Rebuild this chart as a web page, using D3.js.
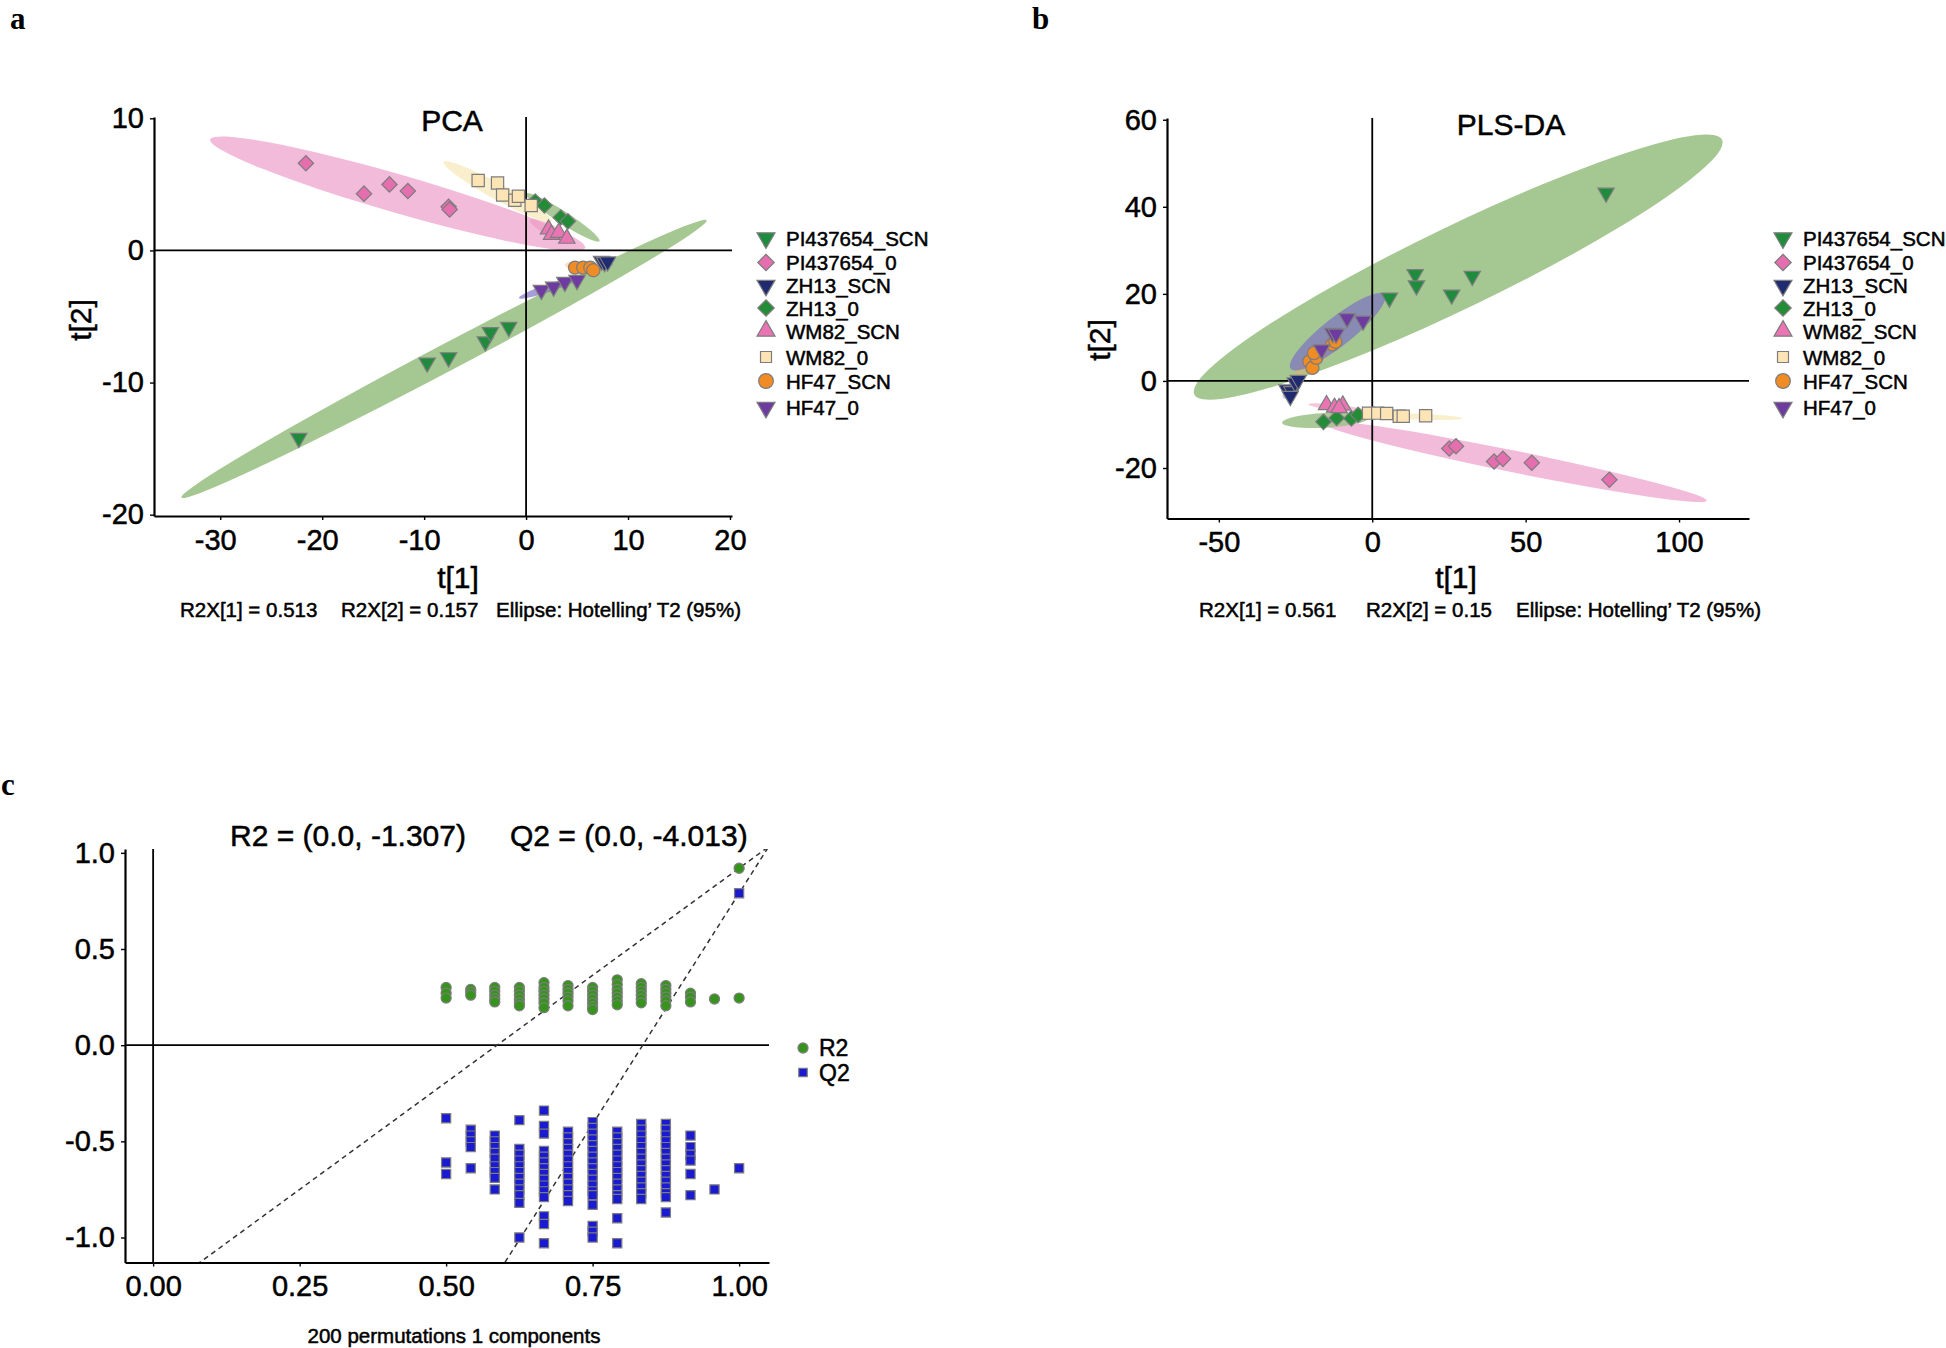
<!DOCTYPE html>
<html>
<head>
<meta charset="utf-8">
<script src="https://cdn.jsdelivr.net/npm/d3@7"></script>
<style>
  body { margin: 0; background: #fff; }
  svg { display: block; }
  text { font-family: "Liberation Sans", Arial, Helvetica, sans-serif; fill: #000; stroke: #000; stroke-width: 0.5px; }
  text.tag { stroke: none; }
</style>
</head>
<body>
<svg id="fig" width="1946" height="1348"></svg>
<script>
// ---- data ----
const groups = ["PI437654_SCN", "PI437654_0", "ZH13_SCN", "ZH13_0", "WM82_SCN", "WM82_0", "HF47_SCN", "HF47_0"];
const groupShapes = ["triDown", "diamond", "triDown", "diamond", "triUp", "square", "circle", "triDown"];

// PCA scores t[1], t[2] per group
const pcaScores = [
  [[-22.3, -14.2], [-9.7, -8.5], [-7.6, -8.1], [-4.0, -6.9], [-3.5, -6.2], [-1.7, -5.8]],
  [[-21.6, 6.6], [-15.9, 4.3], [-13.4, 5.0], [-11.6, 4.5], [-7.6, 3.3], [-7.5, 3.1]],
  [[7.4, -0.8], [7.7, -0.9], [8.0, -0.85]],
  [[0.9, 3.7], [1.8, 3.4], [3.4, 2.5], [4.1, 2.2]],
  [[2.2, 1.6], [2.5, 1.2], [3.2, 1.35], [4.0, 0.9]],
  [[-4.7, 5.3], [-2.8, 5.1], [-2.3, 4.2], [-1.1, 3.8], [-0.75, 4.1], [0.5, 3.4]],
  [[4.8, -1.3], [5.6, -1.3], [6.3, -1.3], [6.6, -1.5]],
  [[1.5, -3.0], [2.7, -2.75], [3.8, -2.4], [5.0, -2.25]]
];
// Hotelling T2 ellipses: tip1 x, tip1 y, tip2 x, tip2 y, minor/major ratio
const pcaEllipses = [
  [-33.8, -18.7, 17.7, 2.28, 0.045],
  [-31.0, 8.4, 5.8, 0.2, 0.098],
  [7.0, -0.6, 8.5, -1.1, 0.4],
  [0.0, 4.3, 7.2, 0.7, 0.14],
  [0.4, 2.3, 4.3, 0.8, 0.25],
  [-8.1, 6.7, 2.5, 2.2, 0.13],
  [3.8, -1.1, 7.0, -1.3, 0.3],
  [-0.7, -3.6, 5.4, -2.0, 0.12]
];

const plsScores = [
  [[76.2, 43.2], [14.0, 24.5], [14.4, 21.9], [5.6, 19.1], [25.9, 19.8], [32.6, 24.1]],
  [[25.1, -15.5], [27.3, -15.0], [39.7, -18.5], [42.6, -17.9], [52.0, -18.8], [77.3, -22.7]],
  [[-27.8, -2.0], [-26.2, -2.4], [-25.1, -0.4], [-26.7, -3.5], [-24.1, 0.2]],
  [[-15.9, -9.4], [-11.6, -8.5], [-6.8, -8.6], [-4.6, -7.8]],
  [[-14.9, -5.5], [-12.3, -6.1], [-9.6, -5.6], [-10.8, -6.2]],
  [[-1.2, -7.4], [1.8, -7.4], [4.7, -7.5], [8.8, -8.1], [10.1, -8.1], [17.4, -8.0]],
  [[-20.5, 4.5], [-19.5, 3.0], [-18.2, 5.3], [-19.0, 6.4], [-13.0, 8.4], [-12.0, 9.0]],
  [[-16.5, 7.2], [-12.9, 11.0], [-11.8, 10.8], [-8.2, 14.4], [-3.0, 13.8]]
];
const plsEllipses = [
  [-58.0, -3.1, 114.0, 55.4, 0.14],
  [-17.0, -9.5, 109.0, -27.5, 0.055],
  [-29.0, -4.0, -23.0, 1.0, 0.35],
  [-29.4, -9.6, -1.3, -8.5, 0.17],
  [-20.7, -5.4, -1.9, -6.9, 0.1],
  [-4.4, -7.7, 29.4, -8.6, 0.06],
  [-25.0, 1.0, -12.0, 10.0, 0.3],
  [-26.6, 2.8, 4.0, 19.8, 0.24]
];

const pcaXTicks = [-30, -20, -10, 0, 10, 20];
const pcaYTicks = [-20, -10, 0, 10];
const plsXTicks = [-50, 0, 50, 100];
const plsYTicks = [-20, 0, 20, 40, 60];
const pcaR2X = ["R2X[1] = 0.513", "R2X[2] = 0.157", "Ellipse: Hotelling\u2019 T2 (95%)"];
const plsR2X = ["R2X[1] = 0.561", "R2X[2] = 0.15", "Ellipse: Hotelling\u2019 T2 (95%)"];

// permutation test (200 permutations)
const permSteps = [0.5, 0.542, 0.583, 0.625, 0.667, 0.708, 0.75, 0.792, 0.833, 0.875, 0.917, 0.958, 1.0];
const permR2 = [
  [0.30, 0.27, 0.245],
  [0.29, 0.275, 0.26],
  [0.30, 0.28, 0.26, 0.24, 0.225],
  [0.30, 0.28, 0.26, 0.24, 0.22, 0.205],
  [0.325, 0.30, 0.28, 0.26, 0.24, 0.22, 0.195],
  [0.31, 0.29, 0.27, 0.25, 0.23, 0.205],
  [0.30, 0.28, 0.26, 0.24, 0.22, 0.20, 0.185],
  [0.34, 0.315, 0.29, 0.27, 0.25, 0.23, 0.21],
  [0.32, 0.30, 0.28, 0.26, 0.24, 0.22],
  [0.31, 0.29, 0.27, 0.25, 0.23, 0.205],
  [0.27, 0.25, 0.225],
  [0.24],
  [0.245]
];
const permQ2 = [
  [-0.38, -0.61, -0.67],
  [-0.44, -0.47, -0.50, -0.53, -0.64],
  [-0.47, -0.50, -0.53, -0.56, -0.59, -0.63, -0.66, -0.69, -0.75],
  [-0.39, -0.54, -0.57, -0.60, -0.63, -0.66, -0.69, -0.72, -0.75, -0.78, -0.82, -1.00],
  [-0.34, -0.42, -0.46, -0.55, -0.58, -0.61, -0.64, -0.67, -0.70, -0.73, -0.76, -0.79, -0.89, -0.93, -1.03],
  [-0.45, -0.48, -0.51, -0.54, -0.57, -0.60, -0.63, -0.66, -0.69, -0.72, -0.75, -0.78, -0.81],
  [-0.40, -0.43, -0.46, -0.49, -0.52, -0.55, -0.58, -0.61, -0.64, -0.67, -0.70, -0.73, -0.76, -0.78, -0.83, -0.94, -0.97, -1.00],
  [-0.45, -0.48, -0.51, -0.54, -0.57, -0.60, -0.63, -0.66, -0.69, -0.72, -0.75, -0.78, -0.80, -0.90, -1.03],
  [-0.41, -0.44, -0.47, -0.50, -0.53, -0.56, -0.59, -0.62, -0.65, -0.68, -0.71, -0.74, -0.77, -0.80],
  [-0.41, -0.44, -0.47, -0.50, -0.53, -0.56, -0.59, -0.62, -0.65, -0.68, -0.71, -0.74, -0.77, -0.79, -0.87],
  [-0.47, -0.53, -0.57, -0.60, -0.67, -0.78],
  [-0.75],
  [-0.64]
];
const r2Original = 0.92;
const q2Original = 0.79;
const r2Intercept = -1.307;
const q2Intercept = -4.013;
const permXTicks = [0, 0.25, 0.5, 0.75, 1.0];
const permYTicks = [-1.0, -0.5, 0, 0.5, 1.0];

// ---- styles ----
const markerFill = ["#1e8c3c", "#e56eae", "#1f2a70", "#238c37", "#ea74b4", "#fde4b4", "#f08c23", "#6e3ca0"];
const ellipseFill = ["#a0c48c", "#f2b4d6", "#5a64a8", "#a0c48c", "#ec8fb8", "#f8ecc4", "#f5a860", "#7a6cc4"];
const ellipseOpacity = [0.95, 0.9, 0.3, 0.9, 0.5, 0.85, 0.35, 0.66];
const symbolType = { triDown: d3.symbolTriangle, triUp: d3.symbolTriangle, diamond: d3.symbolSquare, square: d3.symbolSquare, circle: d3.symbolCircle };
const symbolRot = { triDown: 180, triUp: 0, diamond: 45, square: 0, circle: 0 };
const plotSize = { triDown: 115, triUp: 115, diamond: 118, square: 150, circle: 135 };
const legendSize = { triDown: 140, triUp: 140, diamond: 135, square: 121, circle: 170 };
const legendRowY = [238, 262.5, 285.5, 308, 331, 357, 381, 407.5];
const FONT = '"Liberation Sans", Arial, Helvetica, sans-serif';

const svg = d3.select("#fig");

// plain hyphen for negative numbers, as in the source figure
const fmt = spec => d => d3.format(spec)(d).replace("\u2212", "-");

function styleAxis(a) {
  a.attr("font-family", null).attr("font-size", null);
  a.select(".domain").attr("stroke", "#000").attr("stroke-width", 2.2);
  a.selectAll(".tick line").attr("stroke", "#000").attr("stroke-width", 1.4);
  a.selectAll(".tick text").attr("fill", "#000").style("font-size", "29px").style("font-family", FONT);
}

function drawAxes(g, x, y, xTicks, yTicks, xFmt, yFmt, negShift) {
  const ax = g.append("g").attr("transform", `translate(0,${y.range()[0]})`)
    .call(d3.axisBottom(x).tickValues(xTicks).tickFormat(xFmt).tickSize(4).tickPadding(9).tickSizeOuter(0));
  const ay = g.append("g").attr("transform", `translate(${x.range()[0]},0)`)
    .call(d3.axisLeft(y).tickValues(yTicks).tickFormat(yFmt).tickSize(4).tickPadding(6).tickSizeOuter(0));
  styleAxis(ax);
  styleAxis(ay);
  if (negShift) ax.selectAll(".tick text").attr("dx", d => d < 0 ? -5 : 0);
}

function zeroLines(g, x, y) {
  g.append("line").attr("x1", x(0)).attr("x2", x(0)).attr("y1", y.range()[1]).attr("y2", y.range()[0])
    .attr("stroke", "#000").attr("stroke-width", 1.8);
  g.append("line").attr("x1", x.range()[0]).attr("x2", x.range()[1]).attr("y1", y(0)).attr("y2", y(0))
    .attr("stroke", "#000").attr("stroke-width", 1.8);
}

function drawEllipse(g, x, y, e, i) {
  const [x1, y1, x2, y2, ratio] = e;
  const p1 = [x(x1), y(y1)], p2 = [x(x2), y(y2)];
  const cx = (p1[0] + p2[0]) / 2, cy = (p1[1] + p2[1]) / 2;
  const a = Math.hypot(p2[0] - p1[0], p2[1] - p1[1]) / 2;
  const ang = Math.atan2(p2[1] - p1[1], p2[0] - p1[0]) * 180 / Math.PI;
  g.append("ellipse")
    .attr("transform", `translate(${cx},${cy}) rotate(${ang})`)
    .attr("rx", a).attr("ry", a * ratio)
    .attr("fill", ellipseFill[i]).attr("fill-opacity", ellipseOpacity[i]);
}

function marker(g, shape, size, cx, cy, fill) {
  g.append("path")
    .attr("d", d3.symbol().type(symbolType[shape]).size(size)())
    .attr("transform", `translate(${cx},${cy}) rotate(${symbolRot[shape]})`)
    .attr("fill", fill).attr("stroke", "#7d7d7d").attr("stroke-width", 1.2);
}

function tagLabel(g, letter, x, y) {
  g.append("text").attr("class", "tag").attr("x", x).attr("y", y)
    .style("font-family", '"Liberation Serif", "Times New Roman", serif')
    .style("font-weight", "bold").style("font-size", "31px").text(letter);
}

function scorePanel(o) {
  const g = svg.append("g");
  const x = d3.scaleLinear().domain(o.xDomain).range(o.xRange);
  const y = d3.scaleLinear().domain(o.yDomain).range(o.yRange);

  o.ellipses.forEach((e, i) => drawEllipse(g, x, y, e, i));
  zeroLines(g, x, y);
  o.scores.forEach((pts, i) => {
    pts.forEach(p => marker(g, groupShapes[i], plotSize[groupShapes[i]], x(p[0]), y(p[1]), markerFill[i]));
  });
  drawAxes(g, x, y, o.xTicks, o.yTicks, fmt("d"), fmt("d"), o.negShift);

  g.append("text").attr("x", o.titleX).attr("y", o.titleY).attr("text-anchor", "middle")
    .style("font-size", "30px").text(o.title);
  g.append("text").attr("x", o.xLabelX).attr("y", 588).attr("text-anchor", "middle")
    .style("font-size", "30px").text("t[1]");
  g.append("text").attr("transform", `translate(${o.yLabelX},${o.yLabelY}) rotate(-90)`)
    .attr("text-anchor", "middle").attr("dy", "0.35em")
    .style("font-size", "30px").text("t[2]");
  o.footer.forEach((t, i) => {
    g.append("text").attr("x", o.footerX[i]).attr("y", 617).style("font-size", "20.5px").text(t);
  });

  // legend
  groups.forEach((name, i) => {
    const s = groupShapes[i];
    marker(g, s, legendSize[s], o.legendX, legendRowY[i], markerFill[i]);
    g.append("text").attr("x", o.legendX + 20).attr("y", legendRowY[i] + 7.5)
      .style("font-size", "20.5px").text(name);
  });

  tagLabel(g, o.tag, o.tagX, o.tagY);
}

scorePanel({
  scores: pcaScores, ellipses: pcaEllipses,
  xDomain: [-36.5, 20.2], xRange: [154, 732],
  yDomain: [-20.1, 10.1], yRange: [516, 117],
  xTicks: pcaXTicks, yTicks: pcaYTicks, negShift: true,
  title: "PCA", titleX: 452, titleY: 131,
  xLabelX: 458, yLabelX: 80, yLabelY: 320,
  footer: pcaR2X, footerX: [180, 341, 496],
  legendX: 766, tag: "a", tagX: 10, tagY: 28.5
});

scorePanel({
  scores: plsScores, ellipses: plsEllipses,
  xDomain: [-66.9, 122.8], xRange: [1167, 1749],
  yDomain: [-31.6, 60.4], yRange: [518.5, 118],
  xTicks: plsXTicks, yTicks: plsYTicks, negShift: false,
  title: "PLS-DA", titleX: 1511, titleY: 135,
  xLabelX: 1456, yLabelX: 1099, yLabelY: 340,
  footer: plsR2X, footerX: [1199, 1366, 1516],
  legendX: 1783, tag: "b", tagX: 1032, tagY: 28.5
});

// ---- panel c: permutation test ----
(function () {
  const g = svg.append("g");
  const x = d3.scaleLinear().domain([-0.048, 1.051]).range([125, 769]);
  const y = d3.scaleLinear().domain([-1.13, 1.02]).range([1262.5, 849]);

  g.append("clipPath").attr("id", "clipC").append("rect")
    .attr("x", 125).attr("y", 849).attr("width", 644).attr("height", 413.5);

  zeroLines(g, x, y);

  const lines = [[r2Intercept, r2Original], [q2Intercept, q2Original]];
  const xEnd = x.domain()[1];
  lines.forEach(([b0, b1]) => {
    const slope = b1 - b0;
    g.append("line").attr("clip-path", "url(#clipC)")
      .attr("x1", x(0)).attr("y1", y(b0))
      .attr("x2", x(xEnd)).attr("y2", y(b0 + slope * xEnd))
      .attr("stroke", "#333").attr("stroke-width", 1.5).attr("stroke-dasharray", "5,4");
  });

  const green = "#36941c", blue = "#1a1ad0";
  permSteps.forEach((sx, i) => {
    permR2[i].forEach(v => marker(g, "circle", 80, x(sx), y(v), green));
  });
  marker(g, "circle", 80, x(1), y(r2Original), green);
  permSteps.forEach((sx, i) => {
    permQ2[i].forEach(v => marker(g, "square", 84, x(sx), y(v), blue));
  });
  marker(g, "square", 84, x(1), y(q2Original), blue);

  drawAxes(g, x, y, permXTicks, permYTicks, fmt(".2f"), fmt(".1f"), false);

  g.append("text").attr("x", 230).attr("y", 846).style("font-size", "30px").text("R2 = (0.0, -1.307)");
  g.append("text").attr("x", 510).attr("y", 846).style("font-size", "30px").text("Q2 = (0.0, -4.013)");
  g.append("text").attr("x", 454).attr("y", 1343).attr("text-anchor", "middle")
    .style("font-size", "20.5px").text("200 permutations 1 components");

  marker(g, "circle", 80, 803, 1048, green);
  g.append("text").attr("x", 819).attr("y", 1056).style("font-size", "23px").text("R2");
  marker(g, "square", 72, 803, 1072.5, blue);
  g.append("text").attr("x", 819).attr("y", 1081).style("font-size", "23px").text("Q2");

  tagLabel(g, "c", 1, 795);
})();
</script>
</body>
</html>
